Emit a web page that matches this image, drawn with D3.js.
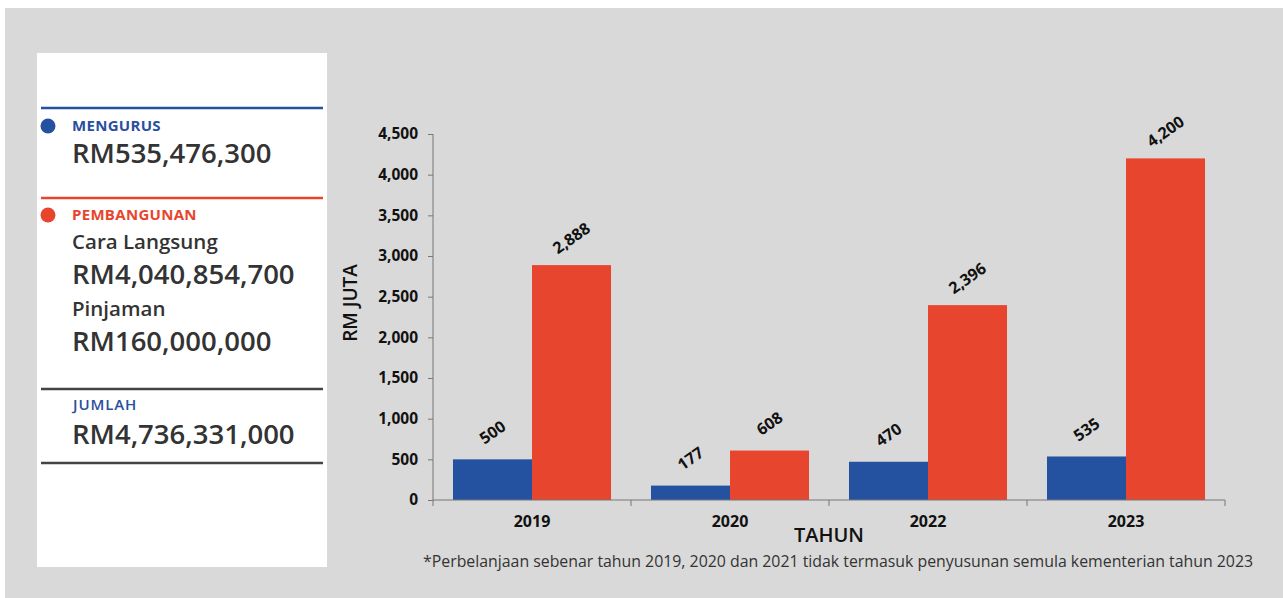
<!DOCTYPE html>
<html><head><meta charset="utf-8">
<script src="https://cdn.jsdelivr.net/npm/d3@7"></script>
<style>html,body{margin:0;padding:0;background:#fff;}svg{display:block;font-family:"Open Sans","Noto Sans",sans-serif;}</style>
</head><body>
<svg id="c" width="1283" height="598"></svg>
<script>
const categories = ["2019", "2020", "2022", "2023"];
const seriesNames = ["Mengurus", "Pembangunan"];
const mengurus = [500, 177, 470, 535];
const pembangunan = [2888, 608, 2396, 4200];
const yTicks = [0, 500, 1000, 1500, 2000, 2500, 3000, 3500, 4000, 4500];
const colors = ["#2452a0", "#e8452e"];
const footnote = "*Perbelanjaan sebenar tahun 2019, 2020 dan 2021 tidak termasuk penyusunan semula kementerian tahun 2023";

const svg = d3.select("#c");
svg.append("rect").attr("x",5).attr("y",8).attr("width",1278).attr("height",590).attr("fill","#d9d9d9");

// left panel
const p = svg.append("g");
p.append("rect").attr("x",37).attr("y",53).attr("width",290).attr("height",514).attr("fill","#fff");
function hline(y,c){p.append("line").attr("x1",41).attr("x2",323).attr("y1",y).attr("y2",y).attr("stroke",c).attr("stroke-width",2.5);}
hline(108,"#2452a0"); hline(198,"#e8452e"); hline(389,"#444"); hline(463,"#444");
p.append("circle").attr("cx",48).attr("cy",126).attr("r",7.5).attr("fill","#2452a0");
p.append("circle").attr("cx",48).attr("cy",215).attr("r",7.5).attr("fill","#e8452e");
function t(x,y,s,size,w,c,ls){const e=p.append("text").attr("x",x).attr("y",y).attr("font-size",size).attr("font-weight",w).attr("fill",c).text(s); if(ls) e.attr("letter-spacing",ls); return e;}
t(72,131,"MENGURUS",15,700,"#2a4f9e",0.3);
t(72,163,"RM535,476,300",27.5,600,"#333");
t(72,220,"PEMBANGUNAN",15,700,"#e8452e",0.3);
t(72,249,"Cara Langsung",20.5,600,"#333");
t(72,284,"RM4,040,854,700",27.5,600,"#333");
t(72,316,"Pinjaman",20.5,600,"#333");
t(72,351,"RM160,000,000",27.5,600,"#333");
t(73,410,"JUMLAH",15,600,"#2a4f9e",0.9);
t(72,444,"RM4,736,331,000",27.5,600,"#333");

// chart
const x0 = d3.scaleBand().domain(categories).range([433,1225]).paddingInner(0).paddingOuter(0);
const x1 = d3.scaleBand().domain(seriesNames).range([0,x0.bandwidth()]).paddingInner(0).paddingOuter(0.253);
const y = d3.scaleLinear().domain([0,4500]).range([500,134]);

const data = categories.map((c,i)=>({cat:c, vals:[mengurus[i], pembangunan[i]]}));

const gy = svg.append("g").attr("transform","translate(433,0)")
  .call(d3.axisLeft(y).tickValues(yTicks).tickFormat(d3.format(",")).tickSize(5).tickPadding(10));
gy.select(".domain").attr("stroke","#777").attr("d","M-0,134V500");
gy.selectAll(".tick line").attr("stroke","#777");
gy.selectAll("text").attr("font-size",15.5).attr("font-weight",700).attr("fill","#111").attr("font-family","Open Sans");

const groups = svg.append("g").selectAll("g").data(data).join("g")
  .attr("transform",d=>`translate(${x0(d.cat)},0)`);
groups.selectAll("rect").data(d=>d.vals.map((v,j)=>({v,s:seriesNames[j],j}))).join("rect")
  .attr("x",d=>x1(d.s)).attr("width",x1.bandwidth())
  .attr("y",d=>y(d.v)).attr("height",d=>y(0)-y(d.v))
  .attr("fill",d=>colors[d.j]);
groups.selectAll("text.v").data(d=>d.vals.map((v,j)=>({v,s:seriesNames[j],j}))).join("text")
  .attr("class","v")
  .attr("transform",d=>`translate(${x1(d.s)+x1.bandwidth()/2},${y(d.v)-27}) rotate(-35)`)
  .attr("text-anchor","middle").attr("dy","0.35em")
  .attr("font-size",16).attr("font-weight",700).attr("fill","#111")
  .text(d=>d3.format(",")(d.v));

const gx = svg.append("g").attr("transform","translate(0,500)")
  .call(d3.axisBottom(x0).tickSize(0).tickPadding(16));
gx.select(".domain").attr("stroke","#777").attr("d","M433,0H1225");
gx.selectAll(".tick text").attr("font-size",16).attr("font-weight",700).attr("fill","#111").attr("font-family","Open Sans");
const bounds = [433].concat(categories.map(c=>x0(c)+x0.bandwidth()));
gx.selectAll("line.sep").data(bounds).join("line").attr("class","sep")
  .attr("x1",d=>d).attr("x2",d=>d).attr("y1",0).attr("y2",6).attr("stroke","#777");

svg.append("text").attr("x",829).attr("y",542).attr("text-anchor","middle")
  .attr("font-size",20).attr("font-weight",600).attr("fill","#111").text("TAHUN");
svg.append("text").attr("transform","translate(357,303) rotate(-90)").attr("text-anchor","middle")
  .attr("font-size",19).attr("font-weight",600).attr("fill","#111").text("RM JUTA");
svg.append("text").attr("x",423).attr("y",567).attr("font-size",16).attr("fill","#333")
  .attr("textLength",830).attr("lengthAdjust","spacingAndGlyphs").text(footnote);
</script>
</body></html>
